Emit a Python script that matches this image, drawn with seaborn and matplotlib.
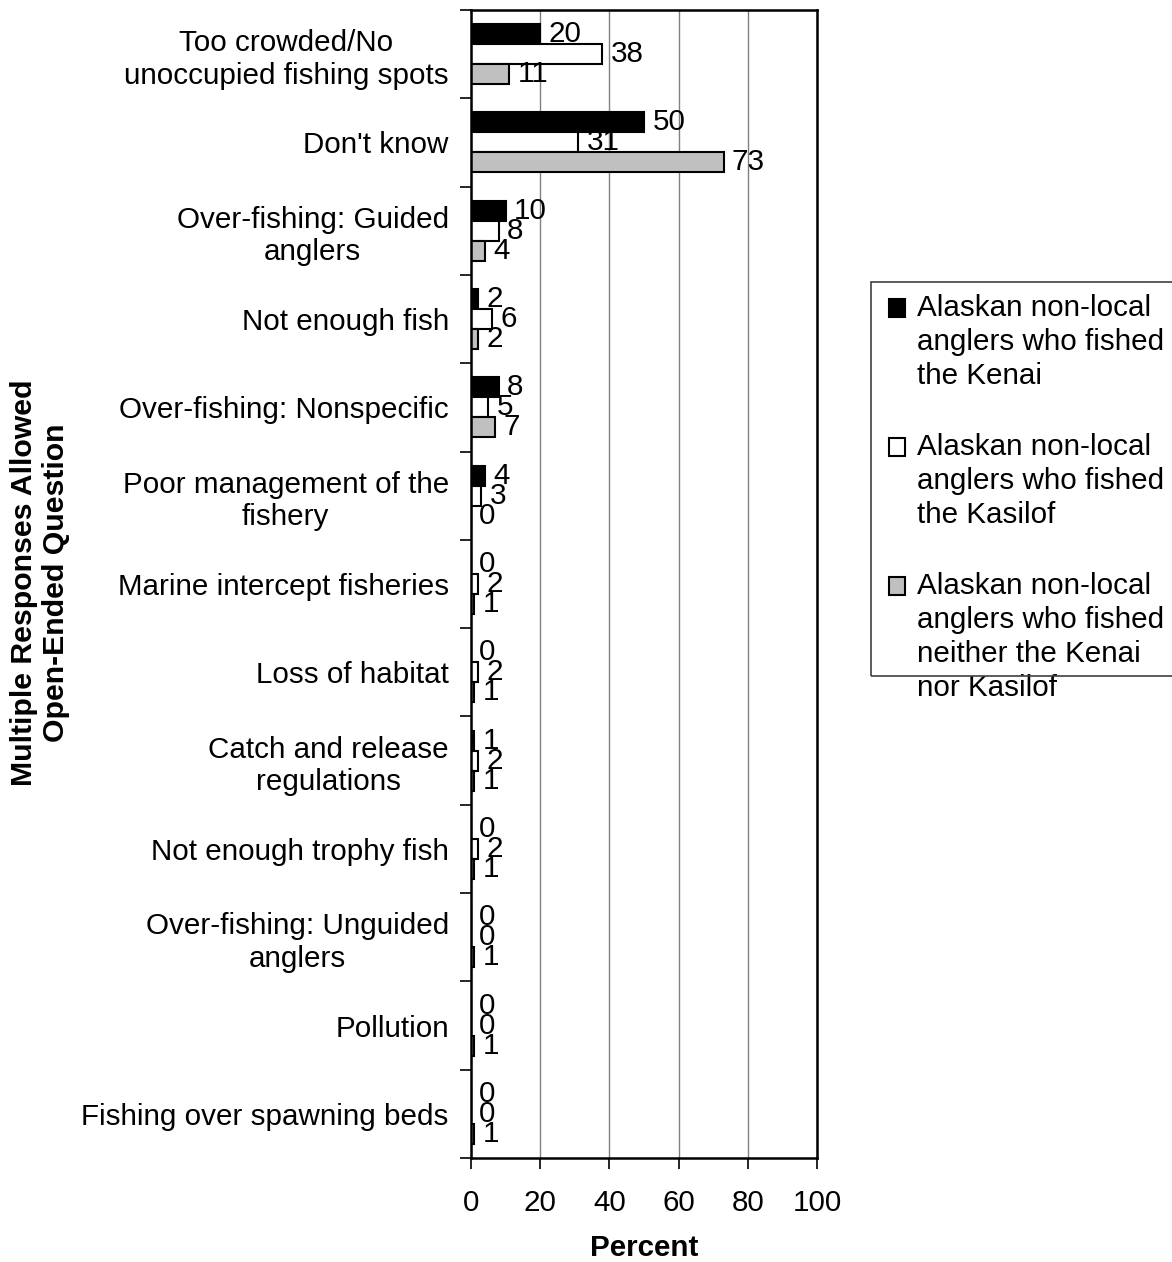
import matplotlib
matplotlib.use("Agg")
import matplotlib.pyplot as plt
import pandas as pd
import seaborn as sns
from matplotlib.patches import Rectangle
from matplotlib.legend_handler import HandlerPatch

# survey answers (percent of respondents)
categories = [
    "Too crowded/No\nunoccupied fishing spots",
    "Don't know",
    "Over-fishing: Guided\nanglers",
    "Not enough fish",
    "Over-fishing: Nonspecific",
    "Poor management of the\nfishery",
    "Marine intercept fisheries",
    "Loss of habitat",
    "Catch and release\nregulations",
    "Not enough trophy fish",
    "Over-fishing: Unguided\nanglers",
    "Pollution",
    "Fishing over spawning beds",
]
kenai = [20, 50, 10, 2, 8, 4, 0, 0, 1, 0, 0, 0, 0]
kasilof = [38, 31, 8, 6, 5, 3, 2, 2, 2, 2, 0, 0, 0]
neither = [11, 73, 4, 2, 7, 0, 1, 1, 1, 1, 1, 1, 1]
series = [
    "Alaskan non-local\nanglers who fished\nthe Kenai",
    "Alaskan non-local\nanglers who fished\nthe Kasilof",
    "Alaskan non-local\nanglers who fished\nneither the Kenai\nnor Kasilof",
]
colors = ["#000000", "#ffffff", "#c0c0c0"]

rows = []
for s, vals in zip(series, [kenai, kasilof, neither]):
    for c, v in zip(categories, vals):
        rows.append({"Category": c, "Group": s, "Percent": v})
df = pd.DataFrame(rows)

sns.set_style("white")
plt.rcParams["font.family"] = ["Liberation Sans", "DejaVu Sans"]
for k in ["text.color", "axes.labelcolor", "xtick.color", "ytick.color"]:
    plt.rcParams[k] = "black"
fs = 21.3

fig = plt.figure(figsize=(11.72, 12.62), dpi=100)
ax = fig.add_axes([0.4019, 0.0824, 0.2952, 0.9097])

sns.barplot(data=df, x="Percent", y="Category", hue="Group", orient="h",
            palette=colors, order=categories, hue_order=series,
            width=0.68, edgecolor="black", linewidth=1.5, ax=ax)

for cont, vals in zip(ax.containers, [kenai, kasilof, neither]):
    ax.bar_label(cont, labels=[str(v) for v in vals], padding=6, fontsize=fs)

ax.set_xlim(0, 100)
ax.set_ylim(len(categories) - 0.5, -0.5)
ax.set_xticks([0, 20, 40, 60, 80, 100])
ax.grid(axis="x", color="#808080", linewidth=1)
ax.grid(axis="y", visible=False)
ax.set_axisbelow(True)
for sp in ax.spines.values():
    sp.set_visible(True)
    sp.set_color("black")
    sp.set_linewidth(1.8)

# category ticks between groups
ax.set_yticks([i - 0.5 for i in range(len(categories) + 1)], minor=True)
ax.tick_params(axis="y", which="major", length=0, pad=16, labelsize=fs)
ax.tick_params(axis="y", which="minor", length=8, width=1.2, direction="out", left=True)
ax.tick_params(axis="x", length=8, width=1.2, direction="out", bottom=True, pad=14, labelsize=fs)
for lab in ax.get_yticklabels():
    lab.set_multialignment("center")

ax.set_xlabel("Percent", fontsize=fs, fontweight="bold")
ax.xaxis.set_label_coords(0.5, -0.066)
ax.set_ylabel("")
fig.text(40 / 1172, 1 - 583 / 1262, "Multiple Responses Allowed\nOpen-Ended Question",
         rotation=90, ha="center", va="center", multialignment="center",
         fontsize=21.8, fontweight="bold")

# legend: square aligned with the first line of each label
old = ax.get_legend()
handles = list(old.legend_handles)
old.remove()

line_sp = 1.27


def top_handler(nlines):
    shift = (nlines - 1) / 2 * line_sp * 0.913 * fs

    def make(legend, orig_handle, xdescent, ydescent, width, height, fontsize):
        return Rectangle((-xdescent, -ydescent + shift), width, height)
    return HandlerPatch(patch_func=make)


hmap = {h: top_handler(s.count("\n") + 1) for h, s in zip(handles, series)}
leg = ax.legend(handles=handles, labels=series, handler_map=hmap,
                loc="upper left", bbox_to_anchor=(889 / 1172, 1 - 294 / 1262),
                bbox_transform=fig.transFigure, fontsize=fs, frameon=False,
                handlelength=0.55, handleheight=0.55, handletextpad=0.4,
                labelspacing=1.46, borderpad=0, borderaxespad=0)
for t in leg.get_texts():
    t.set_linespacing(line_sp)

# legend frame as in the original (text runs past its lower edge)
fig.patches.append(Rectangle((871 / 1172, 1 - 676 / 1262), 0.3, (676 - 282) / 1262,
                             transform=fig.transFigure, fill=False,
                             edgecolor="#404040", linewidth=1.2))

fig.savefig("out.png", dpi=100, facecolor="white")
